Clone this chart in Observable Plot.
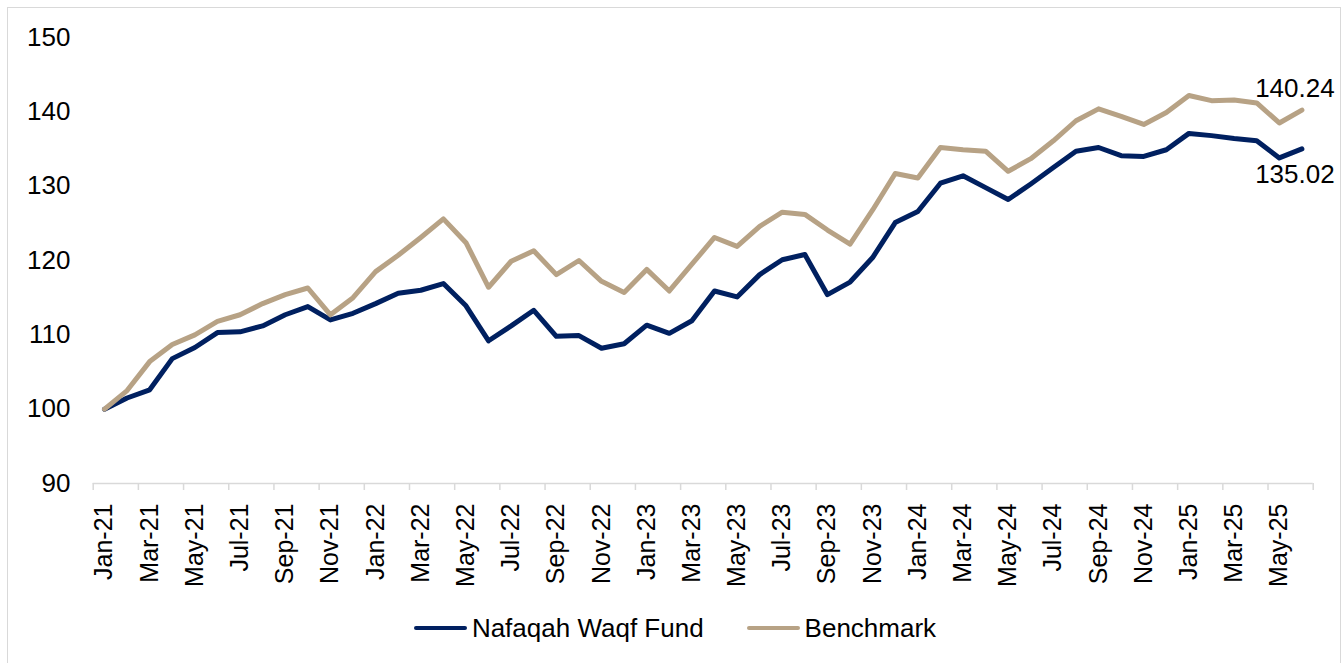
<!DOCTYPE html>
<html>
<head>
<meta charset="utf-8">
<script src="https://cdn.jsdelivr.net/npm/d3@7"></script>
<script src="https://cdn.jsdelivr.net/npm/@observablehq/plot@0.6"></script>
<style>
  html, body { margin: 0; padding: 0; background: #fff; }
  body { width: 1344px; height: 663px; overflow: hidden; position: relative; font-family: "Liberation Sans", Arial, sans-serif; }
  #frame { position: absolute; left: 7px; top: 7px; width: 1334px; height: 670px; border: 1.5px solid #d9d9d9; box-sizing: border-box; pointer-events: none; }
  #chart { position: absolute; left: 0; top: 0; }
  #legend { position: absolute; left: 0; top: 610px; width: 1344px; display: flex; justify-content: center; gap: 43px; padding-left: 6px; box-sizing: border-box; }
  .item { display: flex; align-items: center; font-size: 26px; color: #000; line-height: 36px; }
  .sw { width: 53px; height: 4.5px; border-radius: 3px; margin-right: 5px; }
</style>
</head>
<body>
<div id="chart"></div>
<div id="legend"></div>
<div id="frame"></div>
<script>
const months = ["Jan-21","Feb-21","Mar-21","Apr-21","May-21","Jun-21","Jul-21","Aug-21","Sep-21","Oct-21","Nov-21","Dec-21",
  "Jan-22","Feb-22","Mar-22","Apr-22","May-22","Jun-22","Jul-22","Aug-22","Sep-22","Oct-22","Nov-22","Dec-22",
  "Jan-23","Feb-23","Mar-23","Apr-23","May-23","Jun-23","Jul-23","Aug-23","Sep-23","Oct-23","Nov-23","Dec-23",
  "Jan-24","Feb-24","Mar-24","Apr-24","May-24","Jun-24","Jul-24","Aug-24","Sep-24","Oct-24","Nov-24","Dec-24",
  "Jan-25","Feb-25","Mar-25","Apr-25","May-25","Jun-25"];

const fund = [100.0,101.5,102.6,106.8,108.3,110.3,110.4,111.2,112.7,113.8,112.0,112.9,
  114.2,115.6,116.0,116.9,113.9,109.2,111.2,113.3,109.8,109.9,108.2,108.8,
  111.3,110.2,111.9,115.9,115.1,118.1,120.1,120.8,115.4,117.1,120.4,125.1,
  126.6,130.4,131.4,129.8,128.2,130.3,132.5,134.7,135.2,134.1,134.0,134.9,
  137.1,136.8,136.4,136.1,133.8,135.02];

const benchmark = [100.0,102.5,106.4,108.7,110.0,111.8,112.7,114.2,115.4,116.3,112.7,115.0,
  118.5,120.7,123.1,125.6,122.4,116.4,119.9,121.3,118.1,120.0,117.2,115.7,
  118.8,115.9,119.5,123.1,121.9,124.6,126.5,126.2,124.1,122.2,126.8,131.7,
  131.1,135.2,134.9,134.7,132.0,133.7,136.1,138.8,140.4,139.4,138.3,139.9,
  142.2,141.5,141.6,141.2,138.5,140.24];

const seriesNames = ["Nafaqah Waqf Fund", "Benchmark"];
const seriesColors = ["#002060", "#b7a285"];
const yTicks = [90, 100, 110, 120, 130, 140, 150];

const rows = [];
months.forEach((m, i) => {
  rows.push({i, month: m, value: fund[i], series: seriesNames[0]});
  rows.push({i, month: m, value: benchmark[i], series: seriesNames[1]});
});
const last = months.length - 1;
const topLabel = [{i: last, value: benchmark[last], text: benchmark[last].toFixed(2)}];
const bottomLabel = [{i: last, value: fund[last], text: fund[last].toFixed(2)}];

const labelTicks = d3.range(0, months.length, 2);
const boundaryTicks = d3.range(-0.5, months.length, 2);

const plot = Plot.plot({
  width: 1344,
  height: 600,
  marginLeft: 92.7,
  marginRight: 31.3,
  marginTop: 37,
  marginBottom: 117,
  style: {fontFamily: "'Liberation Sans', Arial, sans-serif", fontSize: "25px", color: "#000", background: "transparent"},
  x: {type: "linear", domain: [-0.5, months.length - 0.5], label: null},
  y: {domain: [90, 150], label: null},
  color: {domain: seriesNames, range: seriesColors},
  marks: [
    Plot.axisY({ticks: yTicks, tickSize: 0, tickPadding: 22.7, fontSize: 26, fill: "#000", label: null}),
    Plot.ruleY([90], {stroke: "#d9d9d9", strokeWidth: 1.5}),
    Plot.axisX({ticks: boundaryTicks, tickFormat: () => "", tickSize: 7, stroke: "#d9d9d9", strokeWidth: 1.5, label: null}),
    Plot.axisX({ticks: labelTicks, tickFormat: i => months[i], tickSize: 0, tickPadding: 20, tickRotate: -90, fontSize: 25, fill: "#000", label: null}),
    Plot.line(rows, {x: "i", y: "value", z: "series", stroke: "series", strokeWidth: 5, strokeLinejoin: "round", strokeLinecap: "round"}),
    Plot.text(topLabel, {x: "i", y: "value", text: "text", fontSize: 26, fill: "#000", dx: -7, dy: -13, lineAnchor: "bottom"}),
    Plot.text(bottomLabel, {x: "i", y: "value", text: "text", fontSize: 26, fill: "#000", dx: -7, dy: 16, lineAnchor: "top"})
  ]
});
document.getElementById("chart").appendChild(plot);

const legend = document.getElementById("legend");
seriesNames.forEach((name, k) => {
  const item = document.createElement("div");
  item.className = "item";
  const sw = document.createElement("div");
  sw.className = "sw";
  sw.style.background = seriesColors[k];
  const t = document.createElement("span");
  t.textContent = name;
  item.appendChild(sw);
  item.appendChild(t);
  legend.appendChild(item);
});
</script>
</body>
</html>
